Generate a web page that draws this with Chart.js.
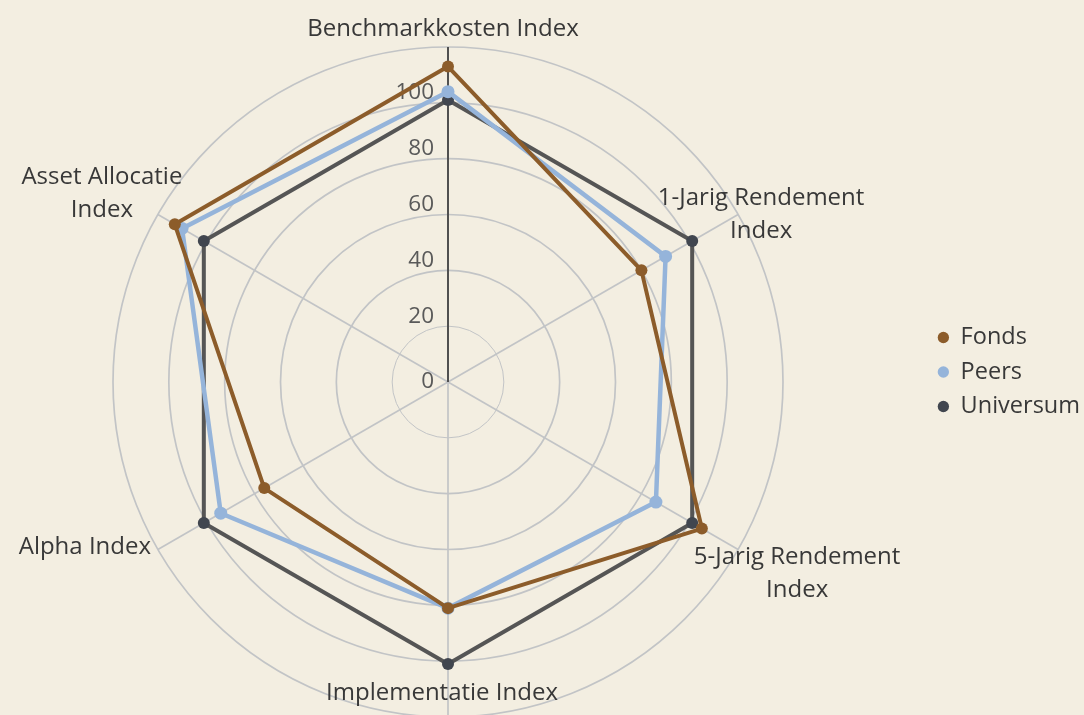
<!DOCTYPE html>
<html>
<head>
<meta charset="utf-8">
<script src="https://cdn.jsdelivr.net/npm/chart.js"></script>
<style>
    html, body { margin: 0; padding: 0; overflow: hidden; background: #F3EEE1; }
    #wrap { width: 1114px; height: 730px; position: relative; margin-left: -30px; }
</style>
</head>
<body>
<div id="wrap"><canvas id="radar-chart"></canvas></div>
<script>
const categorieen = [
    ['Benchmarkkosten Index'],
    ['1-Jarig Rendement', 'Index'],
    ['5-Jarig Rendement', 'Index'],
    ['Implementatie Index'],
    ['Alpha Index'],
    ['Asset Allocatie', 'Index']
];
const fonds = [113, 80, 105, 81, 76, 113];
const peers = [104, 90, 86, 81, 94, 110];
const universum = [101, 101, 101, 101, 101, 101];
const tickLabels = ['0', '20', '40', '60', '80', '100'];

// verschuiving van elk labelblok t.o.v. het eindpunt van de as
const labelShift = [[-5, -18], [23, 0], [59, 24], [-6, -24], [-73, -2], [-56, -21]];

Chart.defaults.font.family = '"Open Sans", sans-serif';

const radarTekst = {
    id: 'radarTekst',
    afterLayout(chart) {
        chart.legend.top -= 10;
        chart.legend.bottom -= 10;
    },
    beforeDatasetsDraw(chart) {
        const scale = chart.scales.r;
        const ctx = chart.ctx;
        ctx.save();
        ctx.textBaseline = 'middle';

        ctx.font = '22.5px "Open Sans"';
        ctx.fillStyle = '#595959';
        ctx.textAlign = 'right';
        tickLabels.forEach(t => {
            const v = Number(t);
            const r = scale.getDistanceFromCenterForValue(v);
            ctx.fillText(t, scale.xCenter - 14, scale.yCenter - r - (v > 0 ? 10 : 0));
        });

        ctx.font = '24px "Open Sans"';
        ctx.fillStyle = '#383838';
        ctx.textAlign = 'center';
        categorieen.forEach((regels, i) => {
            const p = scale.getPointPosition(i, scale.drawingArea);
            const cx = p.x + labelShift[i][0];
            const cy = p.y + labelShift[i][1];
            regels.forEach((regel, k) => {
                ctx.fillText(regel, cx, cy + (k - (regels.length - 1) / 2) * 33);
            });
        });
        ctx.restore();
    }
};

function serie(label, data, lijn, punt, breedte, straal) {
    return {
        label: label,
        data: data,
        fill: false,
        borderColor: lijn,
        backgroundColor: punt,
        borderWidth: breedte,
        borderJoinStyle: 'round',
        pointBackgroundColor: punt,
        pointBorderColor: punt,
        pointBorderWidth: 0,
        pointRadius: straal,
        pointHoverRadius: straal
    };
}

new Chart(document.getElementById('radar-chart'), {
    type: 'radar',
    data: {
        labels: categorieen,
        datasets: [
            serie('Fonds', fonds, '#8C5C2A', '#8C5C2A', 4, 6),
            serie('Peers', peers, '#95B4DA', '#95B4DA', 4.5, 6.5),
            serie('Universum', universum, '#555555', '#41464F', 4, 6)
        ]
    },
    options: {
        responsive: true,
        maintainAspectRatio: false,
        animation: false,
        layout: { padding: { top: 47, bottom: 13, left: 0, right: -6 } },
        scales: {
            r: {
                min: 0,
                max: 120,
                ticks: { stepSize: 20, display: false },
                pointLabels: { display: false },
                grid: {
                    circular: true,
                    color: '#C2C4C6',
                    lineWidth: c => c.index === 1 ? 1 : 1.7
                },
                angleLines: {
                    color: c => c.index === 0 ? '#505050' : '#C2C4C6',
                    lineWidth: c => c.index === 0 ? 2 : 1.7
                }
            }
        },
        plugins: {
            tooltip: { enabled: false },
            legend: {
                position: 'right',
                labels: {
                    usePointStyle: true,
                    pointStyle: 'circle',
                    boxWidth: 11,
                    boxHeight: 8,
                    padding: 11,
                    color: '#383838',
                    font: { size: 23.5 }
                }
            }
        }
    },
    plugins: [radarTekst]
});
</script>
</body>
</html>
